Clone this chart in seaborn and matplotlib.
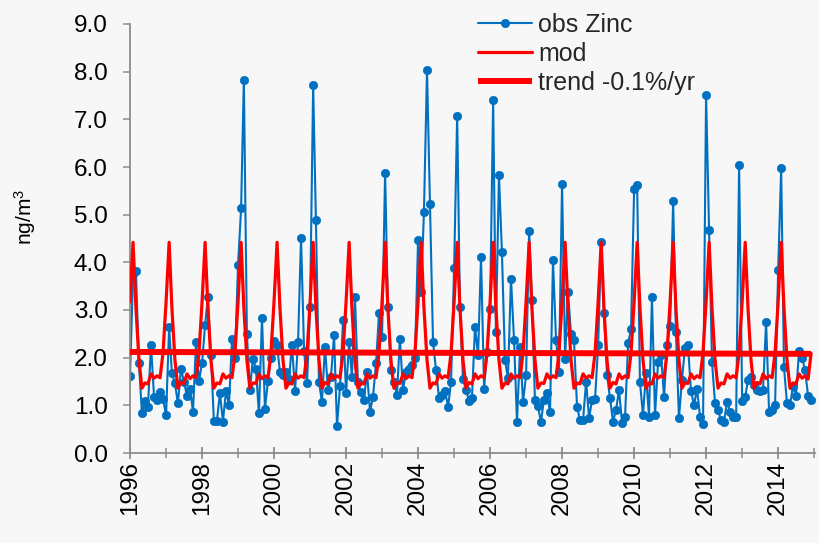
import numpy as np
import pandas as pd
import matplotlib
matplotlib.use("Agg")
import matplotlib.pyplot as plt
import matplotlib.dates as mdates
import seaborn as sns

# ---- data: monthly observed zinc (ng/m3), Jan..Dec per year ----
obs_1996 = [1.61, 3.76, 3.82, 1.88, 0.83, 1.10, 0.97, 2.26, 1.18, 1.11, 1.28, 1.14]
obs_1997 = [0.79, 2.64, 1.67, 1.46, 1.04, 1.77, 1.50, 1.20, 1.35, 0.87, 2.33, 1.51]
obs_1998 = [1.89, 2.69, 3.27, 2.05, 0.68, 0.68, 1.25, 0.66, 1.31, 1.00, 2.40, 2.00]
obs_1999 = [3.94, 5.13, 7.83, 2.50, 1.32, 1.98, 1.77, 0.83, 2.84, 0.93, 1.52, 2.00]
obs_2000 = [2.36, 2.26, 1.70, 1.63, 1.70, 1.56, 2.26, 1.30, 2.33, 4.52, 2.14, 1.46]
obs_2001 = [3.07, 7.71, 4.88, 1.49, 1.07, 2.23, 1.33, 1.60, 2.47, 0.57, 1.40, 2.79]
obs_2002 = [1.25, 2.33, 1.60, 3.28, 1.49, 1.28, 1.11, 1.70, 0.87, 1.18, 1.88, 2.93]
obs_2003 = [2.44, 5.88, 3.07, 1.74, 1.50, 1.21, 2.40, 1.33, 1.70, 1.76, 1.84, 2.00]
obs_2004 = [4.46, 3.38, 5.06, 8.03, 5.23, 2.33, 1.74, 1.15, 1.21, 1.30, 0.97, 1.50]
obs_2005 = [3.89, 7.08, 3.07, 1.56, 1.32, 1.10, 1.15, 2.65, 2.05, 4.12, 1.35, 2.12]
obs_2006 = [3.03, 7.40, 2.53, 5.83, 4.22, 1.95, 1.57, 3.66, 2.37, 0.65, 2.22, 1.07]
obs_2007 = [1.63, 4.66, 3.20, 1.12, 0.98, 0.65, 1.12, 1.25, 0.86, 4.04, 2.37, 1.70]
obs_2008 = [5.65, 1.98, 3.38, 2.50, 2.37, 0.97, 0.69, 0.69, 1.50, 0.73, 1.12, 1.14]
obs_2009 = [2.26, 4.43, 2.94, 1.64, 1.15, 0.66, 0.90, 1.32, 0.62, 0.76, 2.30, 2.60]
obs_2010 = [5.53, 5.62, 1.49, 0.80, 1.67, 0.76, 3.27, 0.80, 1.90, 2.05, 1.18, 2.26]
obs_2011 = [2.67, 5.29, 2.54, 0.73, 1.54, 2.20, 2.26, 1.30, 1.00, 1.35, 0.76, 0.60]
obs_2012 = [7.52, 4.67, 1.91, 1.04, 0.90, 0.69, 0.66, 1.07, 0.87, 0.76, 0.76, 6.05]
obs_2013 = [1.10, 1.18, 1.53, 1.60, 1.43, 1.33, 1.30, 1.33, 2.75, 0.87, 0.90, 1.00]
obs_2014 = [3.83, 5.98, 1.81, 1.04, 1.00, 1.40, 1.20, 2.15, 2.00, 1.74, 1.20, 1.12]

# ---- modelled values (ng/m3), Jan..Dec per year ----
mod_rows = [
    [3.17, 4.42, 3.05, 1.95, 1.36, 1.47, 1.45, 1.66, 1.57, 1.62, 1.58, 2.10],  # 1996
    [3.17, 4.42, 3.05, 1.95, 1.36, 1.48, 1.46, 1.66, 1.56, 1.62, 1.58, 2.10],  # 1997
    [3.17, 4.42, 3.05, 1.95, 1.36, 1.47, 1.45, 1.66, 1.57, 1.62, 1.58, 2.10],  # 1998
    [3.17, 4.42, 3.05, 1.95, 1.36, 1.47, 1.46, 1.66, 1.56, 1.62, 1.58, 2.10],  # 1999
    [3.17, 4.42, 3.05, 1.95, 1.36, 1.47, 1.45, 1.66, 1.57, 1.62, 1.58, 2.10],  # 2000
    [3.17, 4.42, 3.05, 1.95, 1.36, 1.48, 1.45, 1.66, 1.56, 1.62, 1.58, 2.10],  # 2001
    [3.17, 4.42, 3.05, 1.95, 1.36, 1.47, 1.45, 1.66, 1.57, 1.62, 1.58, 2.10],  # 2002
    [3.17, 4.42, 3.05, 1.95, 1.36, 1.47, 1.46, 1.66, 1.56, 1.62, 1.58, 2.10],  # 2003
    [3.17, 4.42, 3.05, 1.95, 1.36, 1.47, 1.45, 1.66, 1.57, 1.62, 1.58, 2.10],  # 2004
    [3.17, 4.42, 3.05, 1.95, 1.36, 1.48, 1.45, 1.66, 1.56, 1.62, 1.58, 2.10],  # 2005
    [3.17, 4.42, 3.05, 1.95, 1.36, 1.47, 1.45, 1.66, 1.57, 1.62, 1.58, 2.10],  # 2006
    [3.17, 4.42, 3.05, 1.95, 1.36, 1.47, 1.46, 1.66, 1.56, 1.62, 1.58, 2.10],  # 2007
    [3.17, 4.42, 3.05, 1.95, 1.36, 1.47, 1.45, 1.66, 1.57, 1.62, 1.58, 2.10],  # 2008
    [3.17, 4.42, 3.05, 1.95, 1.36, 1.48, 1.45, 1.66, 1.56, 1.62, 1.58, 2.10],  # 2009
    [3.17, 4.42, 3.05, 1.95, 1.36, 1.47, 1.45, 1.66, 1.57, 1.62, 1.58, 2.10],  # 2010
    [3.17, 4.42, 3.05, 1.95, 1.36, 1.47, 1.46, 1.66, 1.56, 1.62, 1.58, 2.10],  # 2011
    [3.17, 4.42, 3.05, 1.95, 1.36, 1.47, 1.45, 1.66, 1.57, 1.62, 1.58, 2.10],  # 2012
    [3.17, 4.42, 3.05, 1.95, 1.36, 1.48, 1.45, 1.66, 1.56, 1.62, 1.58, 2.10],  # 2013
    [3.17, 4.42, 3.05, 1.95, 1.36, 1.47, 1.45, 1.66, 1.57, 1.62, 1.55, 2.09],  # 2014
]

# ---- linear trend (start / end value) ----
trend_start = 2.12
trend_end = 2.08

labels = ["obs Zinc", "mod", "trend -0.1%/yr"]
y_ticks = [0, 1, 2, 3, 4, 5, 6, 7, 8, 9]

obs = (obs_1996 + obs_1997 + obs_1998 + obs_1999 + obs_2000 + obs_2001 + obs_2002
       + obs_2003 + obs_2004 + obs_2005 + obs_2006 + obs_2007 + obs_2008 + obs_2009
       + obs_2010 + obs_2011 + obs_2012 + obs_2013 + obs_2014)
mod = [v for row in mod_rows for v in row]
dates = pd.date_range("1996-01-01", periods=len(obs), freq="MS")
df = pd.DataFrame({"date": dates, "obs": obs, "mod": mod})
trend_df = pd.DataFrame({"date": [dates[0], dates[-1]], "trend": [trend_start, trend_end]})

# ---- style ----
bg = "#F7F7F7"
blue = "#0070C0"
red = "#FF0000"
axis_grey = "#8C8C8C"
sns.set_style("ticks")
plt.rcParams["font.family"] = ["Liberation Sans", "DejaVu Sans"]
plt.rcParams["mathtext.fontset"] = "custom"
plt.rcParams["mathtext.rm"] = "Liberation Sans"
plt.rcParams["mathtext.it"] = "Liberation Sans"
plt.rcParams["mathtext.default"] = "regular"

fig = plt.figure(figsize=(8.19, 5.43), dpi=100, facecolor=bg)
ax = fig.add_axes([130 / 819, 1 - 453 / 543, 685 / 819, 429 / 543])
ax.set_facecolor(bg)

sns.lineplot(data=df, x="date", y="obs", ax=ax, color=blue, lw=1.5,
             marker="o", markersize=6, markeredgecolor=blue,
             markerfacecolor=blue, markeredgewidth=0.5, label=labels[0],
             zorder=2)
sns.lineplot(data=df, x="date", y="mod", ax=ax, color=red, lw=2.3,
             label=labels[1], zorder=3)
sns.lineplot(data=trend_df, x="date", y="trend", ax=ax, color=red, lw=4.3,
             label=labels[2], zorder=4, solid_capstyle="butt")

ax.set_ylim(0, 9)
ax.set_yticks(y_ticks)
ax.set_yticklabels([f"{v:.1f}" for v in y_ticks])
ax.set_xlim(pd.Timestamp("1996-01-01"), pd.Timestamp("2015-01-10"))
ax.xaxis.set_major_locator(mdates.YearLocator(2))
ax.xaxis.set_minor_locator(mdates.YearLocator(1))
ax.xaxis.set_major_formatter(mdates.DateFormatter("%Y"))

for s in ["top", "right"]:
    ax.spines[s].set_visible(False)
for s in ["left", "bottom"]:
    ax.spines[s].set_color(axis_grey)
    ax.spines[s].set_linewidth(1.3)

ax.tick_params(axis="y", which="major", direction="out", length=5, width=1.1,
               color=axis_grey, labelsize=17.5, pad=11, labelcolor="black")
ax.tick_params(axis="x", which="major", direction="inout", length=9, width=1.3,
               color=axis_grey, labelsize=17.5, pad=1, labelrotation=90,
               labelcolor="black")
ax.tick_params(axis="x", which="minor", direction="inout", length=7, width=1.1,
               color=axis_grey)

ax.set_xlabel("")
ax.set_ylabel("ng/m$^3$", fontsize=15, color="black")
ax.yaxis.set_label_coords(-0.135, 0.55)

handles, _ = ax.get_legend_handles_labels()
ax.legend(handles, labels, loc="upper left",
          bbox_to_anchor=(478 / 819, 1 - 13 / 543), bbox_transform=fig.transFigure,
          frameon=False, fontsize=18, handlelength=2.15, handletextpad=0.25,
          borderpad=0, borderaxespad=0, labelspacing=0.2)

fig.savefig("out.png", dpi=100, facecolor=bg)
